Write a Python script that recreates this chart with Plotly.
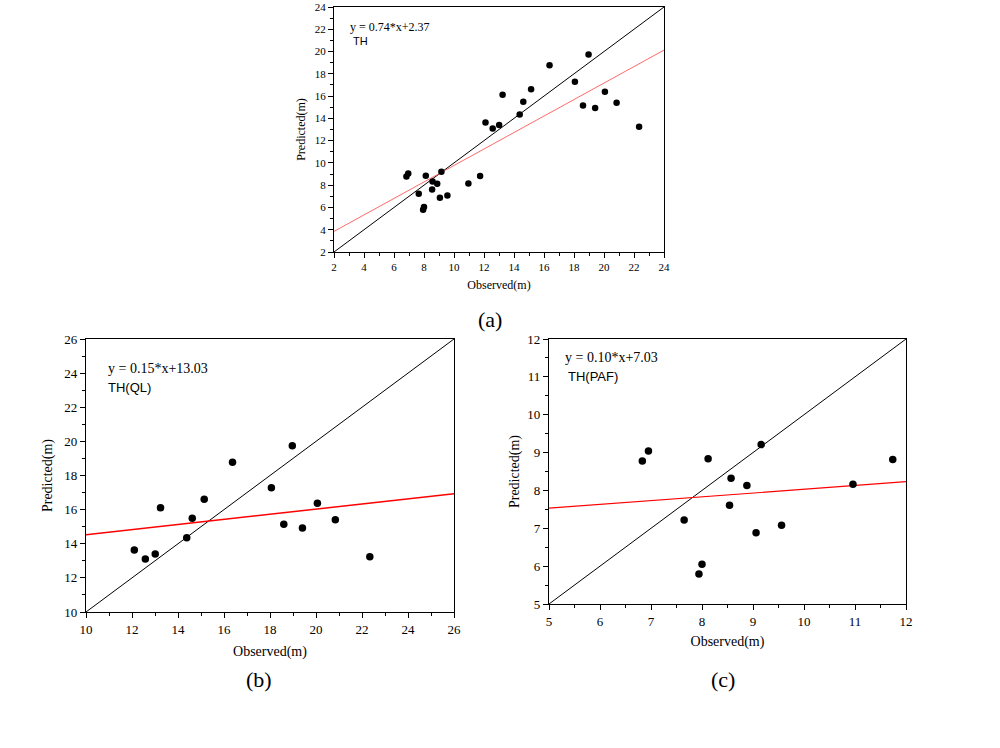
"""Observed vs predicted tree height scatter plots (TH, TH(QL), TH(PAF))"""

import plotly.graph_objects as go

# TH(QL): trees with observed height >= 12 m
obs_ql = [12.10, 12.58, 13.01, 13.24, 14.38, 14.62, 15.14, 16.37,
          18.06, 18.60, 18.97, 19.41, 20.06, 20.84, 22.34]
pred_ql = [13.63, 13.10, 13.40, 16.11, 14.35, 15.50, 16.61, 18.78,
           17.28, 15.15, 19.74, 14.92, 16.38, 15.40, 13.24]

# TH(PAF): trees with observed height < 12 m
obs_paf = [6.83, 6.95, 7.65, 7.94, 8.00, 8.12, 8.54, 8.57,
           8.88, 9.06, 9.16, 9.56, 10.96, 11.74]
pred_paf = [8.78, 9.04, 7.22, 5.79, 6.05, 8.84, 7.61, 8.32,
            8.13, 6.88, 9.21, 7.08, 8.16, 8.82]

# fitted lines (slope, intercept) as printed on the panels
fit_th = (0.74, 2.37)
fit_ql = (0.15, 13.03)
fit_paf = (0.10, 7.03)

# axis ranges per panel
range_th = [2, 24]
range_ql = [10, 26]
range_paf = [5, 12]

SERIF = 'Liberation Serif'
SANS = 'Liberation Sans'
W, H = 1000, 748


def px_x(a, b):
    """像素横坐标区间 -> paper 坐标"""
    return [a / W, b / W]


def px_y(top, bottom):
    """像素纵坐标区间 -> paper 坐标"""
    return [1 - bottom / H, 1 - top / H]


panels = [
    {'ax': '', 'x': obs_paf + obs_ql, 'y': pred_paf + pred_ql, 'fit': fit_th, 'rng': range_th,
     'dtick': 2, 'minor': 1, 'red': '#ff6a6a', 'rw': 1, 'name': 'TH',
     'dom_x': px_x(334, 664), 'dom_y': px_y(7, 252), 'font': 11, 'msize': 6.5,
     'eq_pos': (0.042, 0.92), 'name_pos': (0.05, 0.86), 'stand': (8, 6)},
    {'ax': '2', 'x': obs_ql, 'y': pred_ql, 'fit': fit_ql, 'rng': range_ql,
     'dtick': 2, 'minor': 1, 'red': '#ff0000', 'rw': 1.5, 'name': 'TH(QL)',
     'dom_x': px_x(86, 454), 'dom_y': px_y(339, 612), 'font': 13, 'msize': 7.5,
     'eq_pos': (0.054, 0.893), 'name_pos': (0.054, 0.824), 'stand': (10, 8)},
    {'ax': '3', 'x': obs_paf, 'y': pred_paf, 'fit': fit_paf, 'rng': range_paf,
     'dtick': 1, 'minor': 0.5, 'red': '#ff0000', 'rw': 1.2, 'name': 'TH(PAF)',
     'dom_x': px_x(549, 906), 'dom_y': px_y(339, 604), 'font': 13, 'msize': 7.5,
     'eq_pos': (0.039, 0.932), 'name_pos': (0.048, 0.86), 'stand': (8, 4)},
]

fig = go.Figure()
annotations = []
layout_axes = {}

for p in panels:
    xa, ya = 'x' + p['ax'], 'y' + p['ax']
    lo, hi = p['rng']
    k, b = p['fit']

    # 1:1 线
    fig.add_trace(go.Scatter(x=[lo, hi], y=[lo, hi], mode='lines',
                             line={'color': 'black', 'width': 1}, xaxis=xa, yaxis=ya))
    # 回归线
    fig.add_trace(go.Scatter(x=[lo, hi], y=[k * lo + b, k * hi + b], mode='lines',
                             line={'color': p['red'], 'width': p['rw']}, xaxis=xa, yaxis=ya))
    # 散点
    fig.add_trace(go.Scatter(x=p['x'], y=p['y'], mode='markers',
                             marker={'color': 'black', 'size': p['msize']}, xaxis=xa, yaxis=ya))

    title_font = {'family': SERIF, 'size': p['font'] + 1, 'color': 'black'}
    axis_common = {
        'range': [lo, hi], 'dtick': p['dtick'], 'tick0': lo, 'automargin': False,
        'showgrid': False, 'zeroline': False,
        'showline': True, 'linecolor': 'black', 'linewidth': 1.2, 'mirror': True,
        'ticks': 'outside', 'ticklen': 5, 'tickcolor': 'black', 'tickwidth': 1,
        'minor': {'ticks': 'outside', 'ticklen': 3, 'dtick': p['minor'], 'tick0': lo,
                  'tickcolor': 'black', 'showgrid': False},
        'tickfont': {'family': SERIF, 'size': p['font'], 'color': 'black'},
    }
    layout_axes['xaxis' + p['ax']] = dict(
        axis_common, domain=p['dom_x'], anchor=ya,
        title={'text': 'Observed(m)', 'font': title_font, 'standoff': p['stand'][0]},
    )
    layout_axes['yaxis' + p['ax']] = dict(
        axis_common, domain=p['dom_y'], anchor=xa,
        title={'text': 'Predicted(m)', 'font': title_font, 'standoff': p['stand'][1]},
    )

    # 左上角的方程和标签
    ref_x = xa + ' domain'
    ref_y = ya + ' domain'
    annotations.append({'text': f'y = {k:.2f}*x+{b:.2f}', 'x': p['eq_pos'][0], 'y': p['eq_pos'][1],
                        'xref': ref_x, 'yref': ref_y, 'xanchor': 'left', 'yanchor': 'middle',
                        'showarrow': False, 'font': title_font})
    annotations.append({'text': p['name'], 'x': p['name_pos'][0], 'y': p['name_pos'][1],
                        'xref': ref_x, 'yref': ref_y, 'xanchor': 'left', 'yanchor': 'middle',
                        'showarrow': False,
                        'font': {'family': SANS, 'size': p['font'], 'color': 'black'}})

# 子图编号
captions = [('(a)', 490, 319), ('(b)', 259, 679), ('(c)', 723, 679)]
for text, cx, cy in captions:
    annotations.append({'text': text, 'x': cx / W, 'y': 1 - cy / H,
                        'xref': 'paper', 'yref': 'paper',
                        'xanchor': 'center', 'yanchor': 'middle', 'showarrow': False,
                        'font': {'family': SERIF, 'size': 22, 'color': 'black'}})

fig.update_layout(
    template='none',
    width=W,
    height=H,
    margin={'l': 0, 'r': 0, 't': 0, 'b': 0},
    paper_bgcolor='white',
    plot_bgcolor='white',
    font={'family': SERIF, 'color': 'black'},
    showlegend=False,
    annotations=annotations,
    **layout_axes,
)

# 去掉页面 body 默认的 8px 边距，让图从左上角开始；不显示工具栏
fig.write_html('out.html', config={'displayModeBar': False},
               post_script="document.body.style.margin = '0';")
